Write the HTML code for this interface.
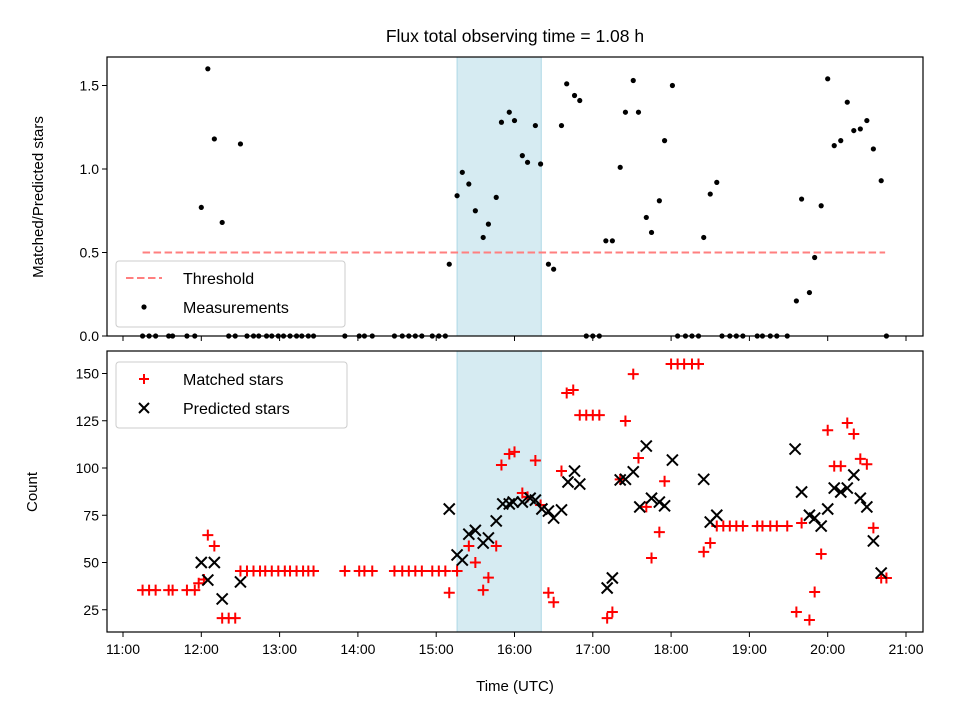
<!DOCTYPE html>
<html><head><meta charset="utf-8"><style>
body{margin:0;background:#fff}
svg text{font-family:"Liberation Sans","DejaVu Sans",sans-serif;fill:#000}
</style></head><body>
<svg id="chart" width="960" height="720" viewBox="0 0 960 720" xmlns="http://www.w3.org/2000/svg">
<rect width="960" height="720" fill="#fff"/>
<text x="515" y="42" font-size="17.5" text-anchor="middle">Flux total observing time = 1.08 h</text>
<text transform="translate(43,197) rotate(-90)" font-size="15" text-anchor="middle">Matched/Predicted stars</text>
<text transform="translate(37,492) rotate(-90)" font-size="15" text-anchor="middle">Count</text>
<text x="515" y="691" font-size="15" text-anchor="middle">Time (UTC)</text>
<g id="g"></g>
</svg>
<script>
// times are minutes after 11:00 UTC
const ratioTimes=[65,60,70,76,90,250,256,260,265,270,276,280,286,290,296,300,306,310,316,320,326,330,336,340,346,350,370,375,381,385,391,395,401,405,411,415,421,445,450,455,516,520,526,530,535,540,545,550,555,560,565,570,575,581];
const ratioValues=[1.60,0.77,1.18,0.68,1.15,0.43,0.84,0.98,0.91,0.75,0.59,0.67,0.83,1.28,1.34,1.29,1.08,1.04,1.26,1.03,0.43,0.40,1.26,1.51,1.44,1.41,0.57,0.57,1.01,1.34,1.53,1.34,0.71,0.62,0.81,1.17,1.50,0.59,0.85,0.92,0.21,0.82,0.26,0.47,0.78,1.54,1.14,1.17,1.40,1.23,1.24,1.29,1.12,0.93];
const zeroTimes=[15,20,25,35,38,49,55,81,86,95,100,104,110,114,119,123,128,133,137,142,146,170,181,185,191,208,214,219,224,229,237,242,247,355,360,365,425,431,436,441,459,465,470,475,486,490,496,501,509,585];
const matchedTimes=[15,20,25,35,38,49,55,58,62,65,70,76,81,86,90,95,100,105,109,114,119,124,128,133,138,142,146,170,181,185,191,208,214,219,224,229,237,242,247,256,250,265,270,276,280,286,290,296,300,306,310,316,320,326,330,336,340,345,350,355,360,365,371,375,381,385,391,395,401,405,411,415,420,425,430,436,441,445,450,455,460,465,470,475,486,490,496,501,509,520,516,526,530,535,540,545,550,555,560,565,570,575,581,585];
const matchedValues=[35.4,35.4,35.4,35.4,35.4,35.4,35.4,39,41,64.5,58.7,20.6,20.6,20.6,45.5,45.5,45.5,45.5,45.5,45.5,45.5,45.5,45.5,45.5,45.5,45.5,45.5,45.5,45.5,45.5,45.5,45.5,45.5,45.5,45.5,45.5,45.5,45.5,45.5,45.5,34,58.7,50,35.4,42,58.7,101.6,107.4,108.5,86.8,84.7,104,80.4,34,29,98.4,139.7,141.3,128,128,128,128,20.6,23.8,94,124.9,149.7,105.3,79.4,52.4,66.1,93,155,155,155,155,155,55.6,60.3,69.3,69.3,69.3,69.3,69.3,69.3,69.3,69.3,69.3,69.3,70.9,23.8,19.6,34.4,54.5,120,101,101,123.8,118,104.8,102,68.3,41.8,41.8];
const predictedTimes=[60,70,65,76,90,250,256,260,265,270,276,280,286,291,296,299,306,312,316,321,326,330,336,341,346,350,371,375,381,385,391,396,401,405,411,415,421,445,450,455,515,520,526,530,535,540,545,550,555,560,565,570,575,581];
const predictedValues=[50,50,40.7,30.7,39.7,78.3,54,51.3,65,67,60.3,63,72,81,81,82,82,84,83,78.3,77.2,73.5,77.8,92.6,98.4,91.5,36.5,41.8,93.7,94,98,79.4,111.6,84,82,80,104.2,94,71.4,75,110,87.3,75,73.5,69.3,78.3,89.4,87.3,89.4,96.3,84,79.4,61.4,44.4];
const topTicks=[0,0.5,1.0,1.5];
const topTickLabels=["0.0","0.5","1.0","1.5"];
const botTicks=[25,50,75,100,125,150];
const hourTicks=[0,60,120,180,240,300,360,420,480,540,600];
const hourLabels=["11:00","12:00","13:00","14:00","15:00","16:00","17:00","18:00","19:00","20:00","21:00"];
const threshold=0.5, thresholdStart=15, thresholdEnd=584;
const spanStart=256, spanEnd=320.5;

const NS="http://www.w3.org/2000/svg";
const g=document.getElementById('g');
function el(t,a,p){const e=document.createElementNS(NS,t);for(const k in a)e.setAttribute(k,a[k]);(p||g).appendChild(e);return e;}
const X=m=>123+m*78.3/60;
const YT=v=>336-v*167;
const YB=v=>657-v*1.89;
const L=107,R=923,T1=57,B1=336,T2=351,B2=632;

let s=el('rect',{x:X(spanStart),y:T1,width:X(spanEnd)-X(spanStart),height:B1-T1,fill:'#add8e6','fill-opacity':0.5,stroke:'#add8e6'});


s=el('rect',{x:X(spanStart),y:T2,width:X(spanEnd)-X(spanStart),height:B2-T2,fill:'#add8e6','fill-opacity':0.5,stroke:'#add8e6'});



let th=el('line',{x1:X(thresholdStart),x2:X(thresholdEnd),y1:YT(threshold),y2:YT(threshold),stroke:'#ff7f7f','stroke-width':2,'stroke-dasharray':'7.5,3.5'});



ratioTimes.forEach((t,i)=>{const c=el('circle',{cx:X(t),cy:YT(ratioValues[i]),r:2.6,fill:'#000'});

});
zeroTimes.forEach(t=>{const c=el('circle',{cx:X(t),cy:YT(0),r:2.6,fill:'#000'});

});

matchedTimes.forEach((t,i)=>{const x=X(t),y=YB(matchedValues[i]);
const p=el('path',{d:`M${x-5.5},${y}H${x+5.5}M${x},${y-5.5}V${y+5.5}`,stroke:'#ff0000','stroke-width':2});

});
predictedTimes.forEach((t,i)=>{const x=X(t),y=YB(predictedValues[i]);
const p=el('path',{d:`M${x-5.5},${y-5.5}L${x+5.5},${y+5.5}M${x-5.5},${y+5.5}L${x+5.5},${y-5.5}`,stroke:'#000','stroke-width':2});

});

let f=el('rect',{x:L,y:T1,width:R-L,height:B1-T1,fill:'none',stroke:'#000','stroke-width':1.2});


f=el('rect',{x:L,y:T2,width:R-L,height:B2-T2,fill:'none',stroke:'#000','stroke-width':1.2});



topTicks.forEach((v,i)=>{el('line',{x1:L-5,x2:L,y1:YT(v),y2:YT(v),stroke:'#000'});
const t=el('text',{x:L-8,y:YT(v)+5,'font-size':14,'text-anchor':'end'});t.textContent=topTickLabels[i];

});
botTicks.forEach(v=>{el('line',{x1:L-5,x2:L,y1:YB(v),y2:YB(v),stroke:'#000'});
const t=el('text',{x:L-8,y:YB(v)+5,'font-size':14,'text-anchor':'end'});t.textContent=v;

});
hourTicks.forEach((m,i)=>{el('line',{x1:X(m),x2:X(m),y1:B1,y2:B1+5,stroke:'#000'});
el('line',{x1:X(m),x2:X(m),y1:B2,y2:B2+5,stroke:'#000'});
const t=el('text',{x:X(m),y:B2+22,'font-size':14,'text-anchor':'middle'});t.textContent=hourLabels[i];

});

function legend(x,y,w,h,items,name){const lg=el('g',{});
el('rect',{x,y,width:w,height:h,rx:3,fill:'#fff','fill-opacity':0.8,stroke:'#ccc'},lg);
items.forEach((it,i)=>{const cy=y+17+i*29,cx=x+28;
if(it.k=='dash')el('line',{x1:cx-18,x2:cx+18,y1:cy,y2:cy,stroke:'#ff7f7f','stroke-width':2,'stroke-dasharray':'7.5,3.5'},lg);
if(it.k=='dot')el('circle',{cx,cy,r:2.6,fill:'#000'},lg);
if(it.k=='plus')el('path',{d:`M${cx-5},${cy}H${cx+5}M${cx},${cy-5}V${cy+5}`,stroke:'#f00','stroke-width':2},lg);
if(it.k=='x')el('path',{d:`M${cx-5},${cy-5}L${cx+5},${cy+5}M${cx-5},${cy+5}L${cx+5},${cy-5}`,stroke:'#000','stroke-width':2},lg);
const t=el('text',{x:x+67,y:cy+6,'font-size':16},lg);t.textContent=it.t;});}
legend(116,261,229,66,[{k:'dash',t:'Threshold'},{k:'dot',t:'Measurements'}],'top-legend');
legend(116,362,231,66,[{k:'plus',t:'Matched stars'},{k:'x',t:'Predicted stars'}],'bottom-legend');
</script>
</body></html>
